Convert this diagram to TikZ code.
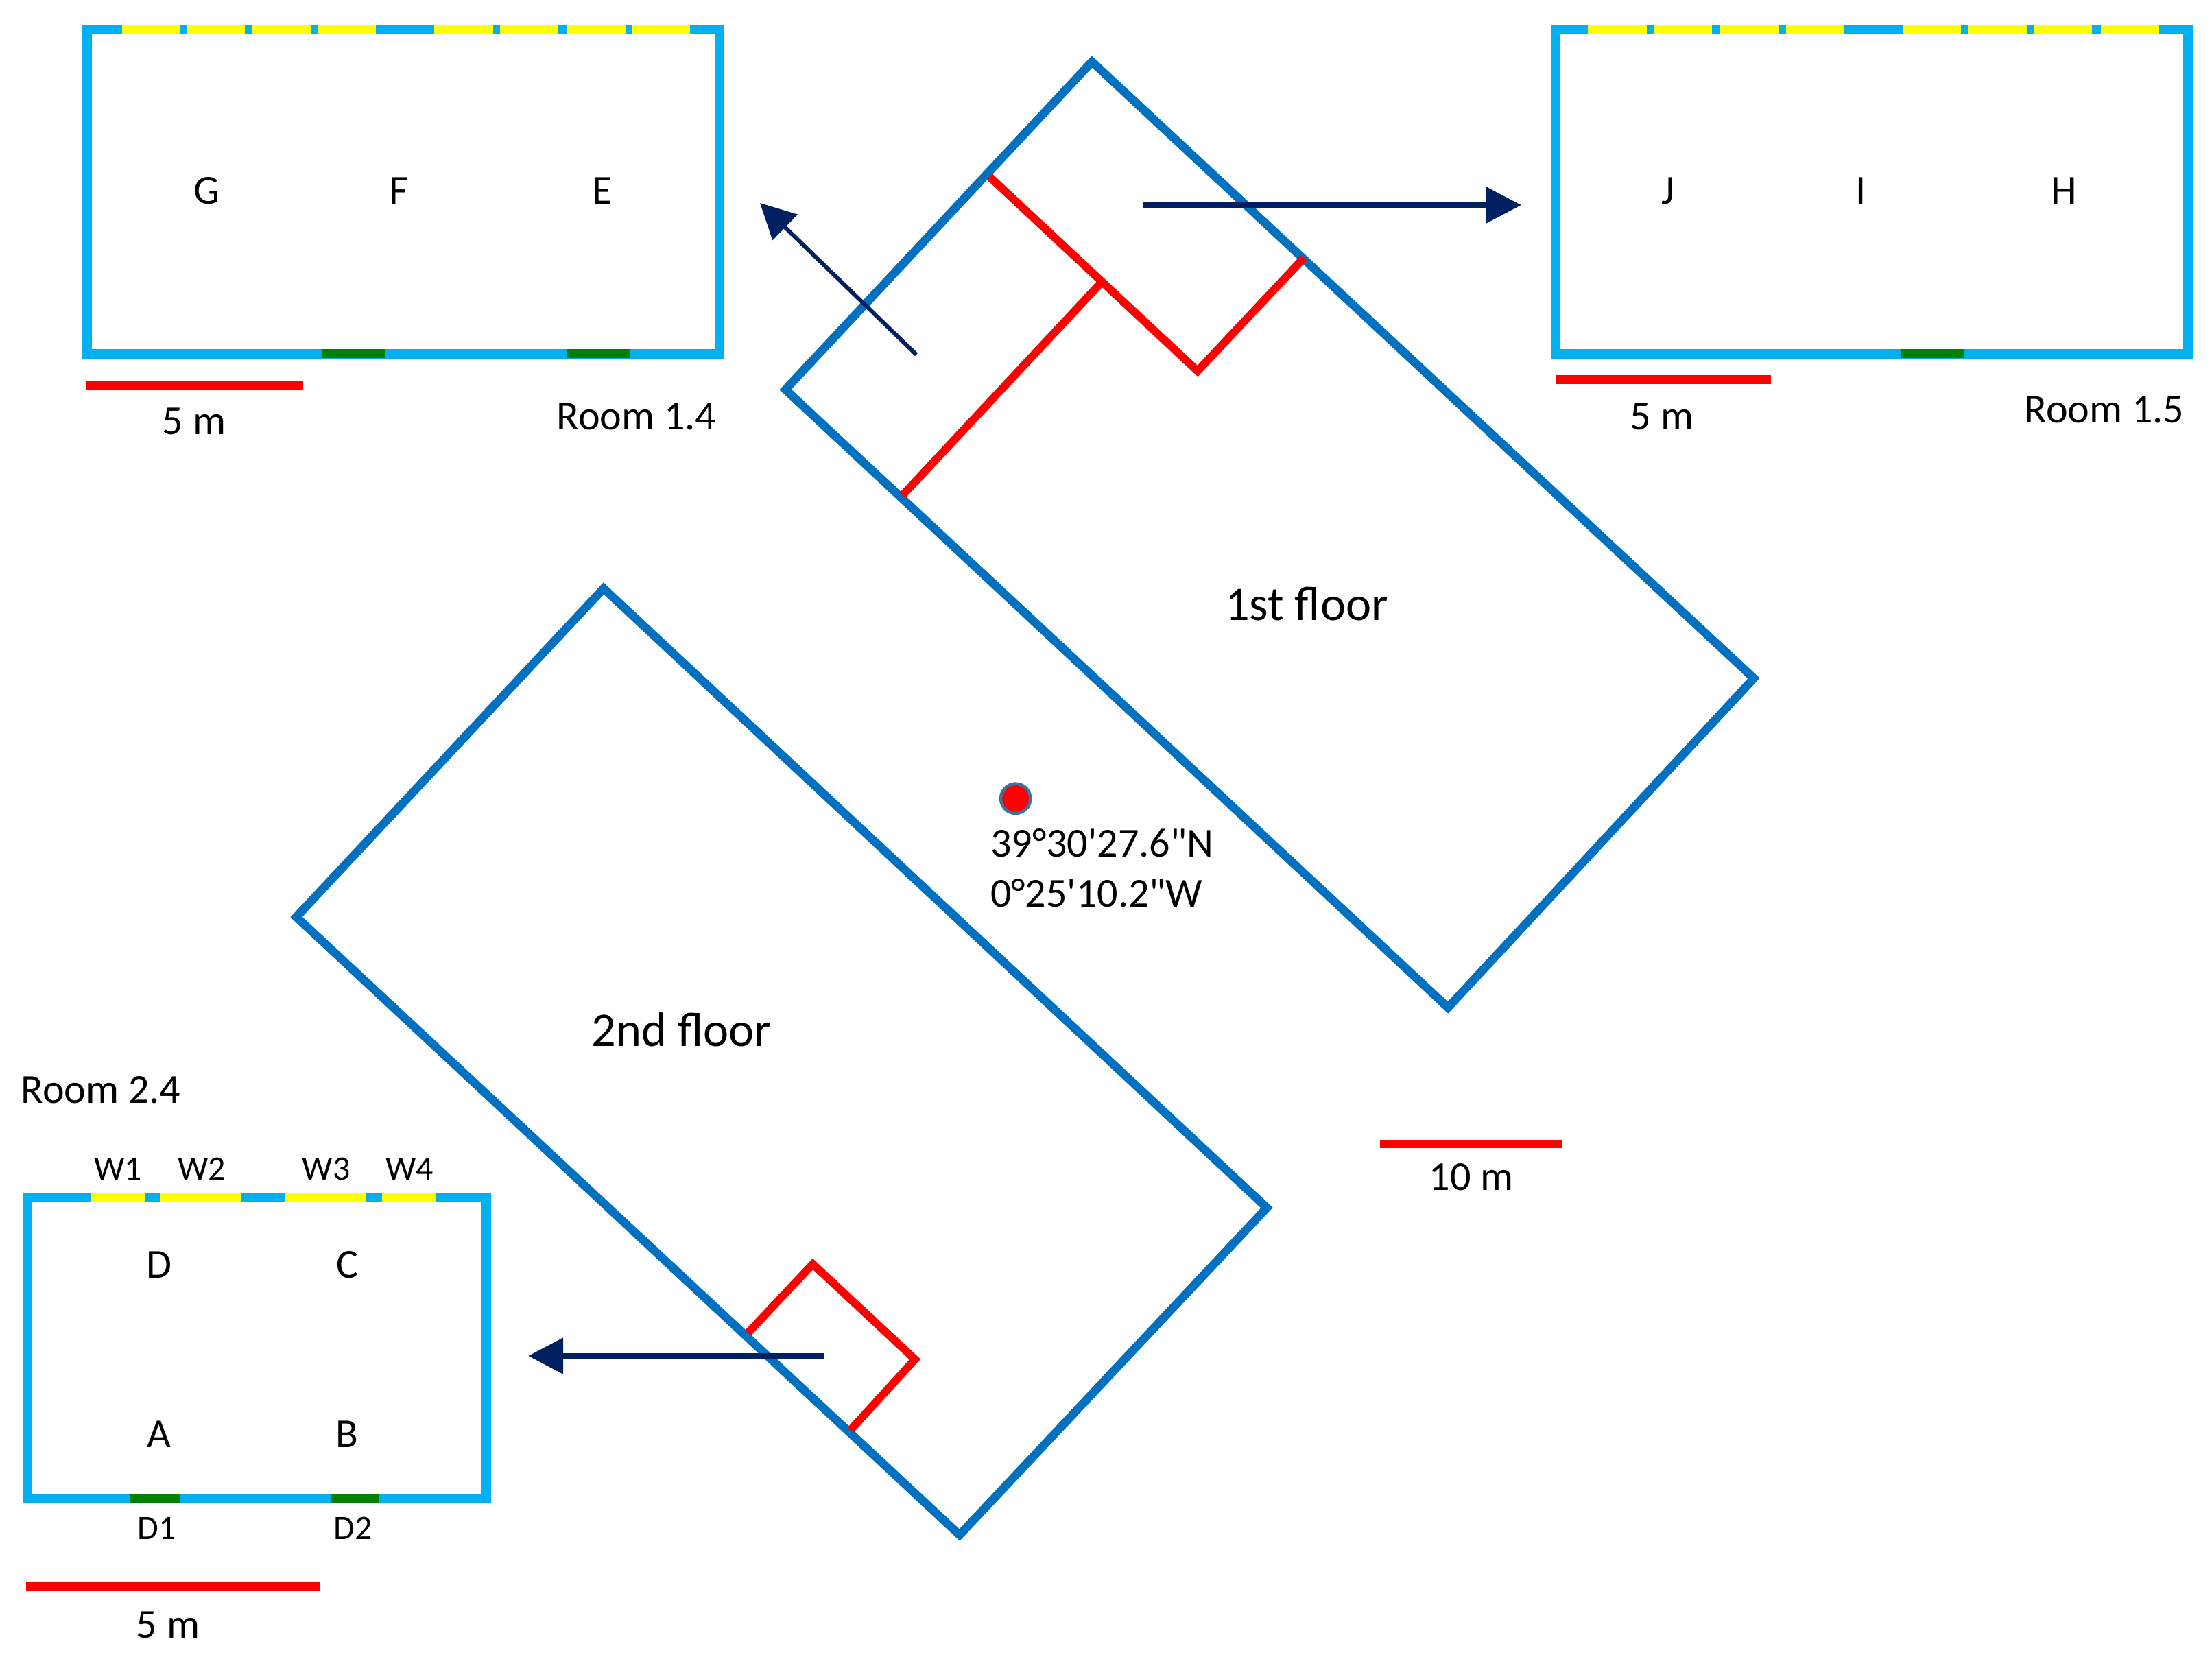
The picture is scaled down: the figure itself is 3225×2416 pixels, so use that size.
\documentclass[tikz,border=0pt]{standalone}
\usepackage{fontspec}
\usetikzlibrary{arrows.meta}
\setmainfont{Carlito}
\newfontfamily\plainfont{Carlito}
\definecolor{floorblue}{HTML}{0070C0}
\definecolor{roomblue}{HTML}{00B0F0}
\definecolor{winyellow}{HTML}{FFFF00}
\definecolor{doorgreen}{HTML}{008000}
\definecolor{arrownavy}{HTML}{002060}
\definecolor{scalered}{HTML}{FF0000}
\definecolor{dotedge}{HTML}{41719C}
\tikzset{
  floorline/.style={draw=floorblue,line width=3.5pt,miter limit=10},
  partition/.style={draw=scalered,line width=3.3pt},
  roomwall/.style={draw=roomblue,line width=3.8pt},
  winseg/.style={fill=winyellow,draw=none},
  doorseg/.style={fill=doorgreen,draw=none},
  scalebar/.style={fill=scalered,draw=none},
  viewarrow/.style={draw=arrownavy,-{Triangle[length=14.5pt,width=14.5pt]}},
  lab/.style={anchor=base,inner sep=0pt,outer sep=0pt,text=black,font=\fontsize{17.1}{20}\selectfont},
  smalllab/.style={lab,font=\fontsize{14.2}{17}\selectfont},
  biglab/.style={lab,font=\fontsize{20}{24}\selectfont},
  dotmark/.style={circle,fill=scalered,draw=dotedge,line width=1.3pt,minimum size=12.3pt,inner sep=0pt}
}
\begin{document}
\begin{tikzpicture}[x=0.01cm,y=-0.01cm]
\useasboundingbox (0,0) rectangle (3225,2416);
% first floor outline
\coordinate (fa) at (1592,90);
\coordinate (fb) at (2557,989);
\coordinate (fc) at (2111,1469);
\coordinate (fd) at (1145,568);
\draw[floorline] (fa) -- (fb) -- (fc) -- (fd) -- cycle;
% second floor outline
\coordinate (sa) at (880,858);
\coordinate (sb) at (1847,1761);
\coordinate (sc) at (1399,2238);
\coordinate (sd) at (432,1337);
\draw[floorline] (sa) -- (sb) -- (sc) -- (sd) -- cycle;
% partitions, first floor
\coordinate (pa) at (1443,258);
\coordinate (pj) at (1604.5,413);
\coordinate (pc) at (1746,541);
\coordinate (pe) at (1901,376);
\coordinate (pl) at (1316,722);
\draw[partition] (pa) -- (pc) -- (pe);
\draw[partition] (pl) -- (pj);
% partitions, second floor
\coordinate (qa) at (1091,1943);
\coordinate (qb) at (1185,1843);
\coordinate (qc) at (1334,1982);
\coordinate (qd) at (1240,2085);
\draw[partition] (qa) -- (qb) -- (qc) -- (qd);
% arrows
\coordinate (ra) at (1667,299);
\coordinate (rb) at (2218,299);
\draw[viewarrow,line width=2.2pt] (ra) -- (rb);
\coordinate (la) at (1336,517);
\coordinate (lb) at (1108,296);
\draw[viewarrow,line width=1.7pt] (la) -- (lb);
\coordinate (ba) at (1201,1977);
\coordinate (bb) at (770,1977);
\draw[viewarrow,line width=2.3pt] (ba) -- (bb);
% Room 1.4
\draw[roomwall] (127,43) rectangle (1049,516);
\foreach \a/\b in {178/263,273/357,368/453,463.5/548,633/719,729/814,827/912,921/1006}
  \fill[winseg] (\a,36.5) rectangle (\b,49.5);
\foreach \a/\b in {469/561,827/919}
  \fill[doorseg] (\a,509) rectangle (\b,522);
\fill[scalebar] (125.5,555) rectangle (442,568);
\node[lab] (g) at (301,298) {G};
\node[lab] (f) at (581.5,298) {F};
\node[lab] (e) at (878,298) {E};
\node[lab] (s14) at (283,634) {5 m};
\node[lab] (r14) at (928,627) {Room 1.4};
% Room 1.5
\draw[roomwall] (2268.5,43) rectangle (3190,516);
\foreach \a/\b in {2315/2401,2411/2496,2508/2594,2604/2688.5,2774/2859,2869/2955,2965.5/3050,3063/3148}
  \fill[winseg] (\a,36.5) rectangle (\b,49.5);
\fill[doorseg] (2771,509) rectangle (2863,522);
\fill[scalebar] (2268,547) rectangle (2582,560);
\node[lab] (j) at (2431.6,298) {J};
\node[lab] (i) at (2713,298) {I};
\node[lab] (h) at (3009.5,298) {H};
\node[lab] (s15) at (2423,627) {5 m};
\node[lab] (r15) at (3068,617) {Room 1.5};
% Room 2.4
\draw[roomwall] (39.5,1746.5) rectangle (709,2185.5);
\foreach \a/\b in {132.6/212,233/351,416/534,557/635}
  \fill[winseg] (\a,1740) rectangle (\b,1753);
\foreach \a/\b in {190/262,482/552}
  \fill[doorseg] (\a,2179) rectangle (\b,2192);
\fill[scalebar] (38,2307) rectangle (467,2320);
\node[lab] (r24) at (147,1608) {Room 2.4};
\node[smalllab] (w1) at (172,1720) {W1};
\node[smalllab] (w2) at (294,1720) {W2};
\node[smalllab] (w3) at (475.5,1720) {W3};
\node[smalllab] (w4) at (597,1720) {W4};
\node[lab] (d) at (232,1863) {D};
\node[lab] (c) at (507,1863) {C};
\node[lab] (a) at (232,2110) {A};
\node[lab] (b) at (506,2110) {B};
\node[smalllab] (d1) at (229,2244) {D1};
\node[smalllab] (d2) at (515,2244) {D2};
\node[lab] (s24) at (245,2388) {5 m};
% floors
\node[biglab] (first) at (1905,904) {1st floor};
\node[biglab] (second) at (993.5,1525) {2nd floor};
% location
\node[dotmark] (dot) at (1480.7,1164.3) {};
\node[lab,anchor=base west,font=\fontsize{17.1}{20}\plainfont] (lat) at (1444,1249) {39°30'27.6"N};
\node[lab,anchor=base west,font=\fontsize{17.1}{20}\plainfont] (lon) at (1444,1322) {0°25'10.2"W};
% main scale
\fill[scalebar] (2012,1662) rectangle (2278,1674);
\node[lab] (s10) at (2145,1735) {10 m};
\end{tikzpicture}
\end{document}
